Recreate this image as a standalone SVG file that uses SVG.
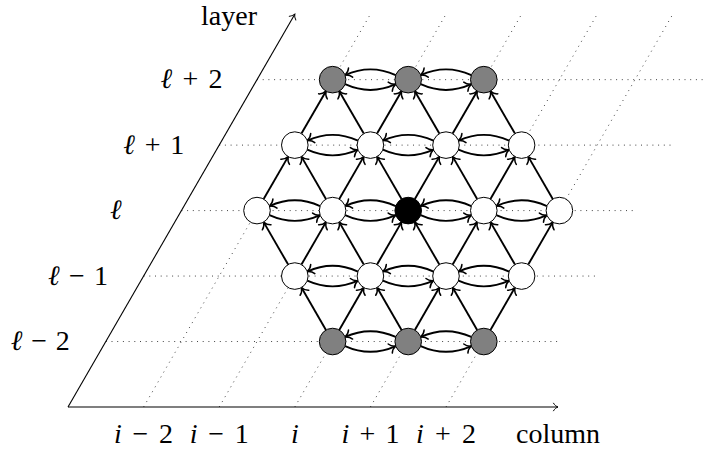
<svg xmlns="http://www.w3.org/2000/svg" xmlns:xlink="http://www.w3.org/1999/xlink" width="705" height="454" viewBox="0 0 705 454">
<style>
.grid{stroke:#444;stroke-width:1;stroke-dasharray:1 4.7;fill:none}
.axis{stroke:#000;stroke-width:1.1;fill:none}
.edge{stroke:#000;stroke-width:1.9;fill:none;marker-end:url(#ah)}
.n{stroke:#000;stroke-width:1;fill:#fff}
.g{fill:#808080}
.b{fill:#000}
text{font-family:"Liberation Serif","DejaVu Serif",serif;font-size:28px;fill:#000}
.lbl{text-anchor:middle}
.it{font-style:italic}
</style>
<defs>
<marker id="ah" markerUnits="userSpaceOnUse" viewBox="-8 -7 9 14" refX="0" refY="0" markerWidth="9" markerHeight="14" orient="auto" overflow="visible">
<path d="M-6,-5 C-4.6,-2.2 -2,-0.7 0,0 C-2,0.7 -4.6,2.2 -6,5" fill="none" stroke="#000" stroke-width="1.5" stroke-linecap="round"/>
</marker>
<marker id="ax" markerUnits="userSpaceOnUse" viewBox="-6 -5 7 10" refX="0" refY="0" markerWidth="7" markerHeight="10" orient="auto" overflow="visible">
<path d="M-4.5,-3.8 C-3.4,-1.7 -1.4,-0.5 0,0 C-1.4,0.5 -3.4,1.7 -4.5,3.8" fill="none" stroke="#000" stroke-width="1" stroke-linecap="round"/>
</marker>
<path id="ur" class="edge" d="M6.65,-11.52 L31.15,-53.95"/>
<path id="ul" class="edge" d="M-6.65,-11.52 L-31.15,-53.95"/>
<g id="hp">
<path class="edge" d="M63.1,-4.55 Q37.8,-16 12.5,-4.55"/>
<path class="edge" d="M12.5,4.55 Q37.8,16 63.1,4.55"/>
</g>
</defs>

<g id="grid">
<path class="grid" d="M105.8,341.53H559.4M143.6,276.06H597.2M181.4,210.59H635M219.2,145.12H672.8M257,79.65H710.6"/>
<path class="grid" d="M143.6,407L370.4,14.2M219.2,407L446,14.2M294.8,407L521.6,14.2M370.4,407L597.2,14.2M446,407L672.8,14.2"/>
</g>

<g id="axes">
<path class="axis" d="M68,407H558" marker-end="url(#ax)"/>
<path class="axis" d="M68,407L294.8,14.2" marker-end="url(#ax)"/>
</g>

<g id="labels">
<text class="lbl" x="229" y="25">layer</text>
<text class="lbl" x="558" y="443">column</text>
<text class="lbl" x="191.5" y="88" textLength="62" lengthAdjust="spacing"><tspan class="it">ℓ</tspan> + 2</text>
<text class="lbl" x="153.7" y="153.6" textLength="61" lengthAdjust="spacing"><tspan class="it">ℓ</tspan> + 1</text>
<text class="lbl" x="115.9" y="219"><tspan class="it">ℓ</tspan></text>
<text class="lbl" x="78.1" y="284.5" textLength="60" lengthAdjust="spacing"><tspan class="it">ℓ</tspan> − 1</text>
<text class="lbl" x="40.3" y="350" textLength="59" lengthAdjust="spacing"><tspan class="it">ℓ</tspan> − 2</text>
<text class="lbl" x="143.6" y="443" textLength="59" lengthAdjust="spacing"><tspan class="it">i</tspan> − 2</text>
<text class="lbl" x="219.2" y="443" textLength="59" lengthAdjust="spacing"><tspan class="it">i</tspan> − 1</text>
<text class="lbl" x="294.8" y="443"><tspan class="it">i</tspan></text>
<text class="lbl" x="370.4" y="443" textLength="58" lengthAdjust="spacing"><tspan class="it">i</tspan> + 1</text>
<text class="lbl" x="446" y="443" textLength="60" lengthAdjust="spacing"><tspan class="it">i</tspan> + 2</text>
</g>

<g id="connectors">
<use href="#ul" x="332.6" y="341.53"/><use href="#ur" x="332.6" y="341.53"/>
<use href="#ul" x="408.2" y="341.53"/><use href="#ur" x="408.2" y="341.53"/>
<use href="#ul" x="483.8" y="341.53"/><use href="#ur" x="483.8" y="341.53"/>
<use href="#ul" x="294.8" y="276.06"/><use href="#ur" x="294.8" y="276.06"/>
<use href="#ul" x="370.4" y="276.06"/><use href="#ur" x="370.4" y="276.06"/>
<use href="#ul" x="446" y="276.06"/><use href="#ur" x="446" y="276.06"/>
<use href="#ul" x="521.6" y="276.06"/><use href="#ur" x="521.6" y="276.06"/>
<use href="#ur" x="257" y="210.59"/>
<use href="#ul" x="332.6" y="210.59"/><use href="#ur" x="332.6" y="210.59"/>
<use href="#ul" x="408.2" y="210.59"/><use href="#ur" x="408.2" y="210.59"/>
<use href="#ul" x="483.8" y="210.59"/><use href="#ur" x="483.8" y="210.59"/>
<use href="#ul" x="559.4" y="210.59"/>
<use href="#ur" x="294.8" y="145.12"/>
<use href="#ul" x="370.4" y="145.12"/><use href="#ur" x="370.4" y="145.12"/>
<use href="#ul" x="446" y="145.12"/><use href="#ur" x="446" y="145.12"/>
<use href="#ul" x="521.6" y="145.12"/>
<use href="#hp" x="332.6" y="79.65"/><use href="#hp" x="408.2" y="79.65"/>
<use href="#hp" x="294.8" y="145.12"/><use href="#hp" x="370.4" y="145.12"/><use href="#hp" x="446" y="145.12"/>
<use href="#hp" x="257" y="210.59"/><use href="#hp" x="332.6" y="210.59"/><use href="#hp" x="408.2" y="210.59"/><use href="#hp" x="483.8" y="210.59"/>
<use href="#hp" x="294.8" y="276.06"/><use href="#hp" x="370.4" y="276.06"/><use href="#hp" x="446" y="276.06"/>
<use href="#hp" x="332.6" y="341.53"/><use href="#hp" x="408.2" y="341.53"/>
</g>

<g id="n-5-1"><circle class="n g" cx="332.6" cy="79.65" r="13.3"/></g>
<g id="n-5-2"><circle class="n g" cx="408.2" cy="79.65" r="13.3"/></g>
<g id="n-5-3"><circle class="n g" cx="483.8" cy="79.65" r="13.3"/></g>
<g id="n-4-1"><circle class="n" cx="294.8" cy="145.12" r="13.3"/></g>
<g id="n-4-2"><circle class="n" cx="370.4" cy="145.12" r="13.3"/></g>
<g id="n-4-3"><circle class="n" cx="446" cy="145.12" r="13.3"/></g>
<g id="n-4-4"><circle class="n" cx="521.6" cy="145.12" r="13.3"/></g>
<g id="n-3-1"><circle class="n" cx="257" cy="210.59" r="13.3"/></g>
<g id="n-3-2"><circle class="n" cx="332.6" cy="210.59" r="13.3"/></g>
<g id="n-3-3"><circle class="n b" cx="408.2" cy="210.59" r="13.3"/></g>
<g id="n-3-4"><circle class="n" cx="483.8" cy="210.59" r="13.3"/></g>
<g id="n-3-5"><circle class="n" cx="559.4" cy="210.59" r="13.3"/></g>
<g id="n-2-1"><circle class="n" cx="294.8" cy="276.06" r="13.3"/></g>
<g id="n-2-2"><circle class="n" cx="370.4" cy="276.06" r="13.3"/></g>
<g id="n-2-3"><circle class="n" cx="446" cy="276.06" r="13.3"/></g>
<g id="n-2-4"><circle class="n" cx="521.6" cy="276.06" r="13.3"/></g>
<g id="n-1-1"><circle class="n g" cx="332.6" cy="341.53" r="13.3"/></g>
<g id="n-1-2"><circle class="n g" cx="408.2" cy="341.53" r="13.3"/></g>
<g id="n-1-3"><circle class="n g" cx="483.8" cy="341.53" r="13.3"/></g>
</svg>
